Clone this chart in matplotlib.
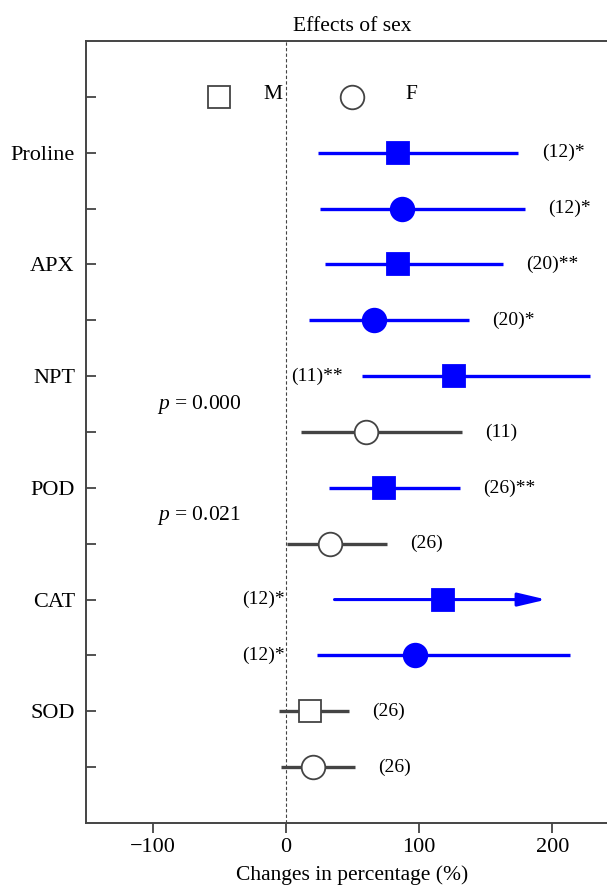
import matplotlib
matplotlib.use("Agg")
import matplotlib.pyplot as plt

plt.rcParams['font.family'] = ['Liberation Serif', 'DejaVu Serif']
plt.rcParams['mathtext.fontset'] = 'custom'
plt.rcParams['mathtext.it'] = 'Liberation Serif:italic'
plt.rcParams['mathtext.rm'] = 'Liberation Serif'

# ---- data (top to bottom) ----
variables = ["Proline", "Proline", "APX", "APX", "NPT", "NPT",
             "POD", "POD", "CAT", "CAT", "SOD", "SOD"]
sex = ["M", "F", "M", "F", "M", "F", "M", "F", "M", "F", "M", "F"]
means = [84, 87.5, 84, 66, 126.5, 60.5, 74, 33, 118, 97, 18, 20.5]
ci_low = [24, 25.5, 29, 17, 57.5, 11, 32, 1, 36.5, 23.5, -5.5, -4]
ci_high = [174.5, 179.5, 163, 137.5, 228, 132, 130.5, 76, 195.5, 213.5, 47.5, 52]
n_obs = [12, 12, 20, 20, 11, 11, 26, 26, 12, 12, 26, 26]
stars = ["*", "*", "**", "*", "**", "", "**", "", "*", "*", "", ""]
truncated = [False, False, False, False, False, False, False, False, True, False, False, False]
p_labels = ["$p$ = 0.000", "$p$ = 0.021"]
p_vars = ["NPT", "POD"]

BLUE = "#0000ff"
GRAY = "#444444"

fig = plt.figure(figsize=(6.07, 8.85), dpi=100)
ax = fig.add_axes([86/607, 1 - 823/885, (619 - 86)/607, (823 - 41)/885])

nrows = len(means)
ys = [nrows - i for i in range(nrows)]  # 12 ... 1
legend_y = nrows + 1

ax.axvline(0, color=GRAY, lw=0.8, ls=(0, (3, 2)), zorder=1)

for i in range(nrows):
    y = ys[i]
    sig = stars[i] != ""
    col = BLUE if sig else GRAY
    face = BLUE if sig else "white"
    mk = "s" if sex[i] == "M" else "o"
    ms = 15.5 if mk == "s" else 17
    if truncated[i]:
        ax.annotate("", xy=(ci_high[i], y), xytext=(ci_low[i], y),
                    arrowprops=dict(arrowstyle="-|>,head_length=0.85,head_width=0.2",
                                    mutation_scale=20, lw=2.2, color=col,
                                    shrinkA=0, shrinkB=0), zorder=2)
    else:
        ax.plot([ci_low[i], ci_high[i]], [y, y], color=col, lw=2.4,
                solid_capstyle="butt", zorder=2)
    ax.plot(means[i], y, marker=mk, ms=ms, mfc=face,
            mec=(BLUE if sig else GRAY), mew=1.3, zorder=3, ls="none")
    label = f"({n_obs[i]}){stars[i]}"
    if variables[i] == "NPT" and sex[i] == "M":
        ax.text(ci_low[i] - 14.5, y, label, ha="right", va="center", fontsize=14)
    elif variables[i] == "CAT":
        ax.text(-0.5, y, label, ha="right", va="center", fontsize=14)
    else:
        ax.text(ci_high[i] + 17.5, y, label, ha="left", va="center", fontsize=14)

# p-value labels between M and F rows
for lab, v in zip(p_labels, p_vars):
    idx = variables.index(v)
    ax.text(-97, ys[idx] - 0.5, lab, ha="left", va="center", fontsize=15.5)

# legend row
ax.plot(-50, legend_y, marker="s", ms=15.5, mfc="white", mec=GRAY, mew=1.3, ls="none")
ax.plot(50, legend_y, marker="o", ms=17, mfc="white", mec=GRAY, mew=1.3, ls="none")
ax.text(-16.5, legend_y + 0.05, "M", ha="left", va="center", fontsize=15.5)
ax.text(89.5, legend_y + 0.05, "F", ha="left", va="center", fontsize=15.5)

ax.set_xlim(-150, 250)
ax.set_ylim(0, nrows + 2)
ax.set_xticks([-100, 0, 100, 200])
ax.set_yticks(ys + [legend_y])
ax.set_yticklabels([v if s == "M" else "" for v, s in zip(variables, sex)] + [""])

ax.tick_params(axis="y", direction="in", length=7, width=1.3, color=GRAY,
               labelsize=16, pad=8)
ax.tick_params(axis="x", direction="out", length=7, width=1.3, color=GRAY,
               labelsize=16, pad=4)
for s in ["left", "bottom", "top", "right"]:
    ax.spines[s].set_color(GRAY)
    ax.spines[s].set_linewidth(1.4)

ax.set_xlabel("Changes in percentage (%)", fontsize=15.5, labelpad=6)
ax.set_title("Effects of sex", fontsize=15.5, pad=7)

fig.savefig("out.png", dpi=100)
